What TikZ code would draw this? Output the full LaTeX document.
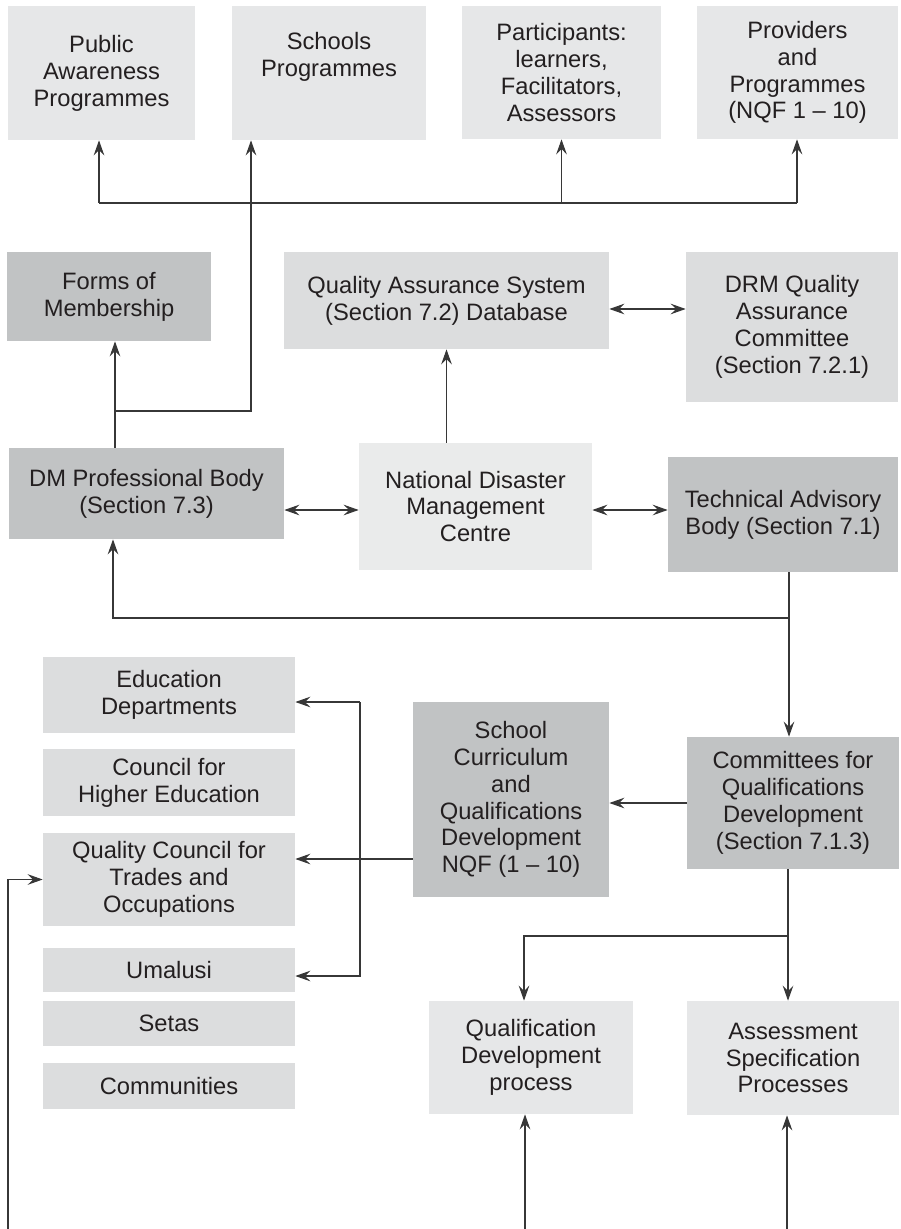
\documentclass[tikz,border=0pt]{standalone}
\usepackage{fontspec}
\setmainfont{Liberation Sans}
\usetikzlibrary{arrows.meta}
\definecolor{boxlight}{RGB}{230,231,232}
\definecolor{boxmid}{RGB}{220,221,222}
\definecolor{boxpale}{RGB}{234,235,235}
\definecolor{boxdark}{RGB}{193,195,196}
\definecolor{inkc}{RGB}{35,31,32}
\definecolor{linec}{RGB}{55,55,55}
\begin{document}
\begin{tikzpicture}[x=0.02cm, y=-0.02cm,
	box/.style={inner sep=0pt, align=center, text=inkc, font=\fontsize{13.5}{15.3}\selectfont},
	light/.style={box, fill=boxlight},
	mid/.style={box, fill=boxmid},
	pale/.style={box, fill=boxpale},
	dark/.style={box, fill=boxdark},
	line/.style={draw=linec, line width=0.6pt},
	arr/.style={line, -{Stealth[length=8.5pt,width=6pt,inset=3pt]}},
	dbl/.style={line, {Stealth[length=8.5pt,width=6pt,inset=3pt]}-{Stealth[length=8.5pt,width=6pt,inset=3pt]}}]
		\useasboundingbox (0,0) rectangle (900,1229);
		
		% top row
		\node[light, minimum width=3.74cm, minimum height=2.68cm] (pub) at (101.5,73) {Public\\Awareness\\Programmes};
		\node[light, minimum width=3.88cm, minimum height=2.68cm] (schools) at (329,73) {Schools\\Programmes\\[6pt]};
		\node[light, minimum width=3.98cm, minimum height=2.66cm] (part) at (561.5,72.5) {Participants:\\learners,\\Facilitators,\\Assessors};
		\node[light, minimum width=4.02cm, minimum height=2.66cm] (prov) at (797.5,72.5) {Providers\\and\\Programmes\\(NQF 1 -- 10)};
		
		% middle
		\node[dark, minimum width=4.08cm, minimum height=1.78cm] (forms) at (109,296.5) {Forms of\\Membership};
		\node[mid, minimum width=6.5cm, minimum height=1.94cm] (qas) at (446.5,300.5) {Quality Assurance System\\(Section 7.2) Database};
		\node[mid, minimum width=4.24cm, minimum height=3cm] (drm) at (792,327) {DRM Quality\\Assurance\\Committee\\(Section 7.2.1)};
		\node[dark, minimum width=5.5cm, minimum height=1.82cm] (dm) at (146.5,493.5) {DM Professional Body\\(Section 7.3)};
		\node[pale, minimum width=4.66cm, minimum height=2.54cm] (ndmc) at (475.5,506.5) {National Disaster\\Management\\Centre};
		\node[dark, minimum width=4.6cm, minimum height=2.3cm] (tab) at (783,514.5) {Technical Advisory\\Body (Section 7.1)};
		
		% left column
		\node[mid, minimum width=5.04cm, minimum height=1.52cm] (educ) at (169,695) {Education\\Departments};
		\node[mid, minimum width=5.04cm, minimum height=1.34cm] (che) at (169,782.5) {Council for\\Higher Education};
		\node[mid, minimum width=5.04cm, minimum height=1.86cm] (qcto) at (169,879.5) {Quality Council for\\Trades and\\Occupations};
		\node[mid, minimum width=5.04cm, minimum height=0.88cm] (uma) at (169,970) {Umalusi};
		\node[mid, minimum width=5.04cm, minimum height=0.9cm] (setas) at (169,1023.5) {Setas};
		\node[mid, minimum width=5.04cm, minimum height=0.92cm] (comms) at (169,1086) {Communities};
		
		% lower right
		\node[dark, minimum width=3.92cm, minimum height=3.9cm] (scq) at (511,799.5) {School\\Curriculum\\and\\Qualifications\\Development\\NQF (1 -- 10)};
		\node[dark, minimum width=4.24cm, minimum height=2.64cm] (comm) at (793,803) {Committees for\\Qualifications\\Development\\(Section 7.1.3)};
		\node[light, minimum width=4.08cm, minimum height=2.26cm] (qdev) at (531,1057.5) {Qualification\\Development\\process};
		\node[light, minimum width=4.24cm, minimum height=2.28cm] (assess) at (793,1058) {Assessment\\Specification\\Processes};
		
		% junctions
		\coordinate (busW) at (99,203);
		\coordinate (busE) at (797,203);
		\coordinate (jdm) at (115,411);
		\coordinate (jsch) at (251,411);
		\coordinate (yqas) at (0,309);
		\coordinate (yndmc) at (0,510);
		\coordinate (jtab) at (789,618);
		\coordinate (jdmb) at (113,618);
		\coordinate (jscq) at (360,859);
		\coordinate (bt) at (360,702);
		\coordinate (bb) at (360,976);
		\coordinate (lb) at (8,1229);
		\coordinate (jc) at (788,936);
		\coordinate (jq) at (524,936);
		\coordinate (bq) at (525,1229);
		\coordinate (ba) at (787,1229);
		
		% top bus
		\draw[line] (busW) -- (busE);
		\draw[arr] (busW) -- (busW |- pub.south);
		\draw[arr] (part.south |- busW) -- (part.south);
		\draw[arr] (busE) -- (busE |- prov.south);
		
		% professional body links
		\draw[line] (dm.north -| jdm) -- (jdm);
		\draw[arr] (jdm) -- (jdm |- forms.south);
		\draw[arr] (jdm) -- (jsch) -- (jsch |- schools.south);
		
		% centre links
		\draw[arr] (ndmc.north -| qas.south) -- (qas.south);
		\draw[dbl] (qas.east |- yqas) -- (drm.west |- yqas);
		\draw[dbl] (dm.east |- yndmc) -- (ndmc.west |- yndmc);
		\draw[dbl] (ndmc.east |- yndmc) -- (tab.west |- yndmc);
		
		% technical advisory body
		\draw[line] (tab.south -| jtab) -- (jtab);
		\draw[arr] (jtab) -- (jdmb) -- (jdmb |- dm.south);
		\draw[arr] (jtab) -- (jtab |- comm.north);
		
		% qualifications
		\draw[arr] (comm.west) -- (scq.east |- comm.west);
		\draw[arr] (scq.west |- jscq) -- (qcto.east |- jscq);
		\draw[arr] (bt) -- (educ.east |- bt);
		\draw[arr] (bt) -- (bb) -- (uma.east |- bb);
		\draw[arr] (lb) |- (qcto.west);
		
		% development processes
		\draw[line] (comm.south -| jc) -- (jc);
		\draw[arr] (jc) -- (jc |- assess.north);
		\draw[arr] (jc) -- (jq) -- (jq |- qdev.north);
		\draw[arr] (bq) -- (bq |- qdev.south);
		\draw[arr] (ba) -- (ba |- assess.south);
		
\end{tikzpicture}
\end{document}
